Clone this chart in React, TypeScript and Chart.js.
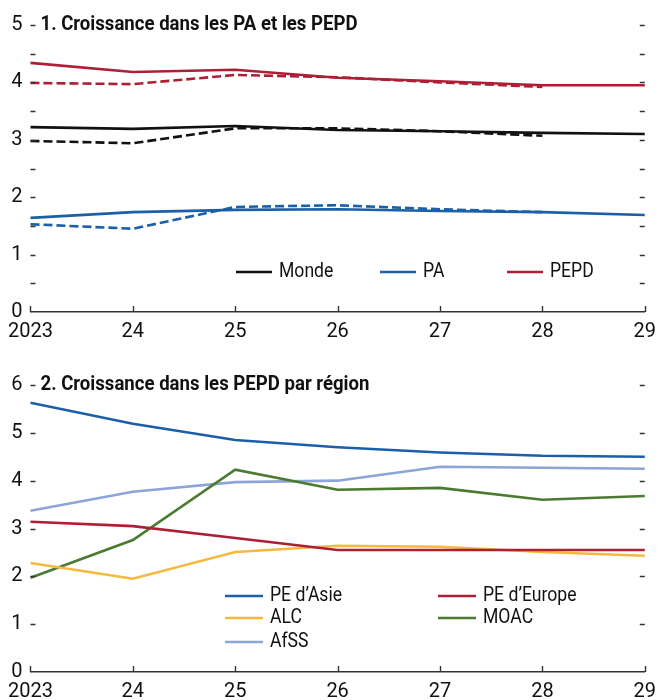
import React, { useEffect, useRef } from 'react';
import { Chart, registerables } from 'chart.js';
Chart.register(...registerables);

const years = ['2023', '24', '25', '26', '27', '28', '29'];

// Panel 1
const mondeSolid = [3.22, 3.19, 3.24, 3.17, 3.15, 3.12, 3.10];
const mondeDashed = [2.98, 2.94, 3.20, 3.20, 3.15, 3.07, null];
const paSolid = [1.64, 1.74, 1.78, 1.79, 1.76, 1.74, 1.69];
const paDashed = [1.53, 1.45, 1.83, 1.86, 1.79, 1.74, null];
const pepdSolid = [4.34, 4.18, 4.22, 4.08, 4.02, 3.95, 3.95];
const pepdDashed = [3.99, 3.97, 4.13, 4.09, 4.00, 3.92, null];

// Panel 2
const asie = [5.63, 5.19, 4.85, 4.70, 4.59, 4.52, 4.50];
const europe = [3.14, 3.05, 2.80, 2.55, 2.55, 2.55, 2.55];
const alc = [2.28, 1.95, 2.51, 2.64, 2.62, 2.51, 2.43];
const moac = [1.97, 2.76, 4.23, 3.81, 3.85, 3.60, 3.68];
const afss = [3.37, 3.77, 3.97, 4.00, 4.29, 4.27, 4.25];

const title1 = '1. Croissance dans les PA et les PEPD';
const title2 = '2. Croissance dans les PEPD par région';

const FONT = '"Liberation Sans Narrow", "Arial Narrow", "Roboto", sans-serif';
const BLACK = '#111111';
const BLUE = '#1b5fa9';
const RED = '#ad1f35';
const YELLOW = '#f5b942';
const GREEN = '#4b7b31';
const LBLUE = '#8ca4d7';

function narrowText(ctx: any, text: string, x: number, y: number, sx: number) {
  ctx.save();
  ctx.translate(x, y);
  ctx.scale(sx, 1);
  ctx.fillText(text, 0, 0);
  ctx.restore();
}

const marksPlugin = {
  id: 'marks',
  afterDatasetsDraw(chart: any, _args: any, opts: any) {
    const { ctx, chartArea } = chart;
    const { left, right, bottom } = chartArea;
    const x = chart.scales.x;
    const y = chart.scales.y;
    ctx.save();
    ctx.strokeStyle = '#333';
    ctx.lineWidth = 1.4;
    y.ticks.forEach((t: any) => {
      if (t.value === 0) return;
      const py = Math.round(y.getPixelForValue(t.value)) + 0.5;
      ctx.beginPath();
      ctx.moveTo(left, py);
      ctx.lineTo(left + 5, py);
      ctx.moveTo(right - 5, py);
      ctx.lineTo(right, py);
      ctx.stroke();
    });
    x.ticks.forEach((_t: any, i: number) => {
      const px = Math.round(x.getPixelForTick(i)) + 0.5;
      ctx.beginPath();
      ctx.moveTo(px, bottom);
      ctx.lineTo(px, bottom - 6);
      ctx.stroke();
    });
    // title
    ctx.fillStyle = '#111';
    ctx.font = `bold 20px ${FONT}`;
    ctx.textBaseline = 'middle';
    ctx.textAlign = 'left';
    narrowText(ctx, opts.title, left + 10, y.getPixelForValue(y.max), 0.93);
    // legend
    ctx.font = `20px ${FONT}`;
    (opts.legend || []).forEach((item: any) => {
      ctx.strokeStyle = item.color;
      ctx.lineWidth = 2.6;
      ctx.beginPath();
      ctx.moveTo(item.x, item.y);
      ctx.lineTo(item.x + item.len, item.y);
      ctx.stroke();
      ctx.fillStyle = '#111';
      narrowText(ctx, item.label, item.x + item.len + 7, item.y, 0.88);
    });
    ctx.restore();
  },
};

function line(label: string, data: any[], color: string, dashed = false) {
  return {
    label,
    data,
    borderColor: color,
    backgroundColor: color,
    borderWidth: 2.6,
    borderDash: dashed ? [9, 4] : [],
    pointRadius: 0,
    tension: 0,
    fill: false,
    spanGaps: false,
  };
}

function makeOptions(ymax: number, padTop: number, xHeight: number, title: string, legend: any[]) {
  return {
    responsive: false,
    animation: false,
    devicePixelRatio: 1,
    layout: { padding: { top: padTop, right: 13, left: 0, bottom: 0 } },
    plugins: {
      legend: { display: false },
      tooltip: { enabled: false },
      marks: { title, legend },
    },
    scales: {
      x: {
        type: 'category',
        offset: false,
        grid: { display: false, drawTicks: false },
        border: { display: true, color: '#333', width: 1.4 },
        ticks: { color: '#111', font: { family: FONT, size: 20 }, padding: 8, maxRotation: 0, autoSkip: false },
        afterFit: (s: any) => { s.height = xHeight; },
      },
      y: {
        min: 0,
        max: ymax,
        grid: { display: false, drawTicks: false },
        border: { display: false },
        ticks: {
          stepSize: 0.5,
          color: '#111',
          font: { family: FONT, size: 20 },
          padding: 8,
          callback: (v: any) => (Number.isInteger(v) ? String(v) : ''),
        },
        afterFit: (s: any) => { s.width = 30; },
      },
    },
  } as any;
}

function ChartCanvas({ config, width, height }: { config: any; width: number; height: number }) {
  const ref = useRef<HTMLCanvasElement | null>(null);
  useEffect(() => {
    if (!ref.current) return;
    const chart = new Chart(ref.current, config);
    return () => chart.destroy();
  }, []);
  return <canvas ref={ref} width={width} height={height} style={{ display: 'block', width, height }} />;
}

export default function App() {
  useEffect(() => {
    document.body.style.margin = '0';
  }, []);

  const config1 = {
    type: 'line',
    data: {
      labels: years,
      datasets: [
        line('PEPD (prév.)', pepdDashed, RED, true),
        line('Monde (prév.)', mondeDashed, BLACK, true),
        line('PA (prév.)', paDashed, BLUE, true),
        line('PEPD', pepdSolid, RED),
        line('Monde', mondeSolid, BLACK),
        line('PA', paSolid, BLUE),
      ],
    },
    options: makeOptions(5, 25, 33, title1, [
      { label: 'Monde', color: BLACK, x: 236, y: 272, len: 36 },
      { label: 'PA', color: BLUE, x: 380, y: 272, len: 36 },
      { label: 'PEPD', color: RED, x: 507, y: 272, len: 36 },
    ]),
    plugins: [marksPlugin],
  };

  const config2 = {
    type: 'line',
    data: {
      labels: years,
      datasets: [
        line("PE d’Europe", europe, RED),
        line('ALC', alc, YELLOW),
        line('MOAC', moac, GREEN),
        line('AfSS', afss, LBLUE),
        line('PE d’Asie', asie, BLUE),
      ],
    },
    options: makeOptions(6, 40, 28, title2, [
      { label: 'PE d’Asie', color: BLUE, x: 225, y: 251, len: 38 },
      { label: 'PE d’Europe', color: RED, x: 438, y: 251, len: 38 },
      { label: 'ALC', color: YELLOW, x: 225, y: 273, len: 38 },
      { label: 'MOAC', color: GREEN, x: 438, y: 273, len: 38 },
      { label: 'AfSS', color: LBLUE, x: 225, y: 297, len: 38 },
    ]),
    plugins: [marksPlugin],
  };

  return (
    <div style={{ width: 664, background: '#fff' }}>
      <ChartCanvas config={config1} width={664} height={345} />
      <ChartCanvas config={config2} width={664} height={355} />
    </div>
  );
}
